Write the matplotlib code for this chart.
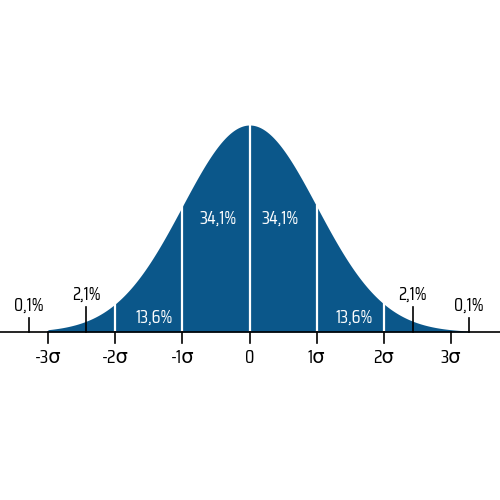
import numpy as np
import matplotlib
matplotlib.use("Agg")
import matplotlib.pyplot as plt

# data
sigma_ticks = [-3, -2, -1, 0, 1, 2, 3]
sigma_labels = ["-3σ", "-2σ", "-1σ", "0", "1σ", "2σ", "3σ"]
divider_positions = [-2, -1, 0, 1, 2]
inner_labels = ["13,6%", "34,1%", "34,1%", "13,6%"]
inner_label_x = [-1.42, -0.47, 0.45, 1.56]
inner_label_y = [0.027, 0.219, 0.219, 0.027]
outer_labels = ["0,1%", "2,1%", "2,1%", "0,1%"]
outer_tick_x = [-3.28, -2.43, 2.43, 3.27]
fill_range = (-3.0, 3.27)

plt.rcParams['font.family'] = ['Saira Condensed', 'DejaVu Sans']

BLUE = "#0b578a"
fig = plt.figure(figsize=(5, 5), dpi=100)
ax = fig.add_axes([0, 0, 1, 1])
ax.set_xlim(-249.5 / 67.2, 250.5 / 67.2)
scale = 207 / 0.39894
ax.set_ylim(-168 / scale, 332 / scale)
ax.axis("off")

def pdf(x):
    return np.exp(-x ** 2 / 2) / np.sqrt(2 * np.pi)

xs = np.linspace(fill_range[0], fill_range[1], 800)
ax.fill_between(xs, 0, pdf(xs), color=BLUE, lw=0, zorder=1)

for d in divider_positions:
    ax.plot([d, d], [0, pdf(d)], color="white", lw=1.6, zorder=2)

# axis line
ax.axhline(0, color="black", lw=1.2, zorder=3)
tick_len = 11 / scale
for t, lab in zip(sigma_ticks, sigma_labels):
    ax.plot([t, t], [0, -tick_len], color="black", lw=1.2, zorder=3)
    ax.text(t, -26 / scale, lab, ha="center", va="center", fontsize=14, color="black")

for x, y, lab in zip(inner_label_x, inner_label_y, inner_labels):
    ax.text(x, y, lab, ha="center", va="center", fontsize=13.5, color="white")

tick_heights = [14 / scale, 25 / scale, 25 / scale, 14 / scale]
for x, h, lab in zip(outer_tick_x, tick_heights, outer_labels):
    ax.plot([x, x], [0, h], color="black", lw=1.2, zorder=3)
    ax.text(x, h + 12 / scale, lab, ha="center", va="center", fontsize=13.5, color="black")

fig.savefig("out.png", dpi=100, facecolor="white")
